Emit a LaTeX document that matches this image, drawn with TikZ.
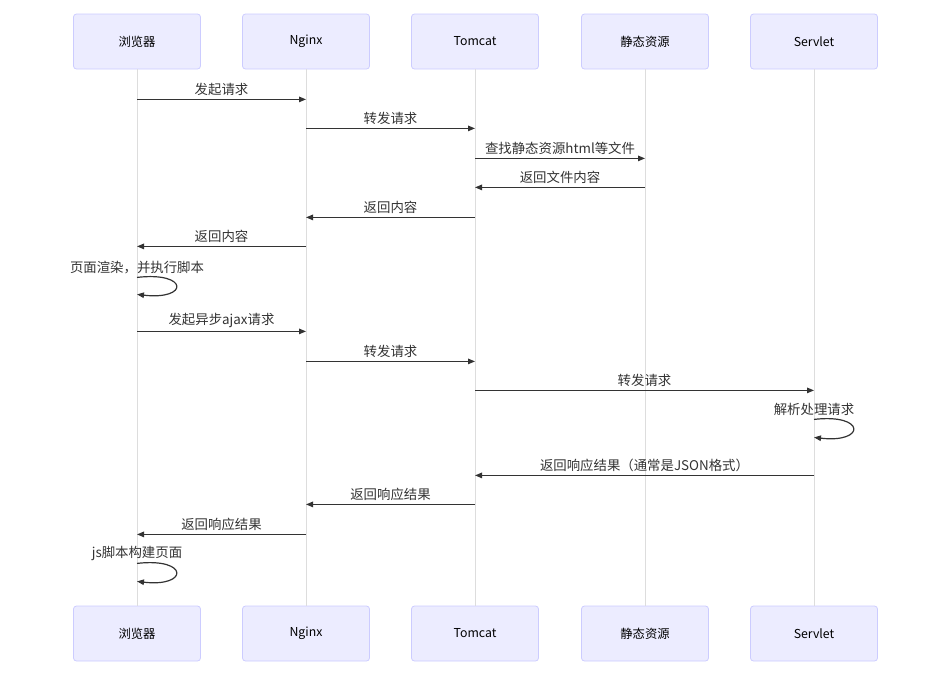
\documentclass[tikz,border=0pt]{standalone}
\usepackage{fontspec}
\setmainfont{Noto Sans CJK SC}
\usepackage{xcolor}
\usepackage{tikz}
\usetikzlibrary{arrows.meta,positioning,calc}
\definecolor{actorfill}{HTML}{ECECFF}
\definecolor{actorline}{HTML}{CCCCFF}
\definecolor{msgline}{HTML}{333333}
\definecolor{lifegray}{HTML}{DDDDDD}
\tikzset{
  actor/.style={rectangle, draw=actorline, fill=actorfill, line width=0.8pt,
                minimum width=127pt, minimum height=55pt, rounded corners=3pt,
                font=\fontsize{12.3}{14}\selectfont, text=black},
  lifeline/.style={draw=lifegray, line width=0.8pt},
  msg/.style={-{Triangle[length=7pt,width=5.5pt]}, draw=msgline, line width=1.2pt},
  txt/.style={font=\fontsize{13.4}{16}\selectfont, text=msgline, inner sep=1pt}
}

\begin{document}
\begin{tikzpicture}[x=1pt,y=-1pt]
  \useasboundingbox (0,0) rectangle (942,678);
  % --- Participantes (arriba y abajo) ---
  \node[actor] (B) at (137,41.5) {浏览器};
  \node[actor] (N) at (306,41.5) {Nginx};
  \node[actor] (T) at (475,41.5) {Tomcat};
  \node[actor] (S) at (645,41.5) {静态资源};
  \node[actor] (V) at (814,41.5) {Servlet};
  \node[actor] (B2) at (137,633.5) {浏览器};
  \node[actor] (N2) at (306,633.5) {Nginx};
  \node[actor] (T2) at (475,633.5) {Tomcat};
  \node[actor] (S2) at (645,633.5) {静态资源};
  \node[actor] (V2) at (814,633.5) {Servlet};
  \foreach \n in {B,N,T,S,V} \draw[lifeline] (\n.south) -- (\n2.north);

  % --- Mensajes: carga de la pagina ---
  \draw[msg] ($(B.south)+(0,30)$) -- node[txt,above=2.5pt]{发起请求} ($(N.south)+(0,30)$);
  \draw[msg] ($(N.south)+(0,59)$) -- node[txt,above=2.5pt]{转发请求} ($(T.south)+(0,59)$);
  \draw[msg] ($(T.south)+(0,89)$) -- node[txt,above=2.5pt]{查找静态资源html等文件} ($(S.south)+(0,89)$);
  \draw[msg] ($(S.south)+(0,118)$) -- node[txt,above=2.5pt]{返回文件内容} ($(T.south)+(0,118)$);
  \draw[msg] ($(T.south)+(0,148)$) -- node[txt,above=2.5pt]{返回内容} ($(N.south)+(0,148)$);
  \draw[msg] ($(N.south)+(0,177)$) -- node[txt,above=2.5pt]{返回内容} ($(B.south)+(0,177)$);
  % self-message (render)
  \node[txt] (render) at ($(B.south)+(0,198)$) {页面渲染，并执行脚本};
  \draw[msg] ($(B.south)+(0,208)$) .. controls +(52,-6) and +(52,6) .. ($(B.south)+(0,225)$);

  % --- Mensajes: peticion ajax ---
  \draw[msg] ($(B.south)+(0,262)$) -- node[txt,above=2.5pt]{发起异步ajax请求} ($(N.south)+(0,262)$);
  \draw[msg] ($(N.south)+(0,292)$) -- node[txt,above=2.5pt]{转发请求} ($(T.south)+(0,292)$);
  \draw[msg] ($(T.south)+(0,321)$) -- node[txt,above=2.5pt]{转发请求} ($(V.south)+(0,321)$);
  % self-message (servlet)
  \node[txt] (parse) at ($(V.south)+(0,340)$) {解析处理请求};
  \draw[msg] ($(V.south)+(0,350)$) .. controls +(52,-6) and +(52,6) .. ($(V.south)+(0,368)$);
  \draw[msg] ($(V.south)+(0,406)$) -- node[txt,above=2.5pt]{返回响应结果（通常是JSON格式）} ($(T.south)+(0,406)$);
  \draw[msg] ($(T.south)+(0,435)$) -- node[txt,above=2.5pt]{返回响应结果} ($(N.south)+(0,435)$);
  \draw[msg] ($(N.south)+(0,465)$) -- node[txt,above=2.5pt]{返回响应结果} ($(B.south)+(0,465)$);
  % self-message (js)
  \node[txt] (build) at ($(B.south)+(0,484)$) {js脚本构建页面};
  \draw[msg] ($(B.south)+(0,494)$) .. controls +(52,-6) and +(52,6) .. ($(B.south)+(0,512)$);
\end{tikzpicture}
\end{document}
